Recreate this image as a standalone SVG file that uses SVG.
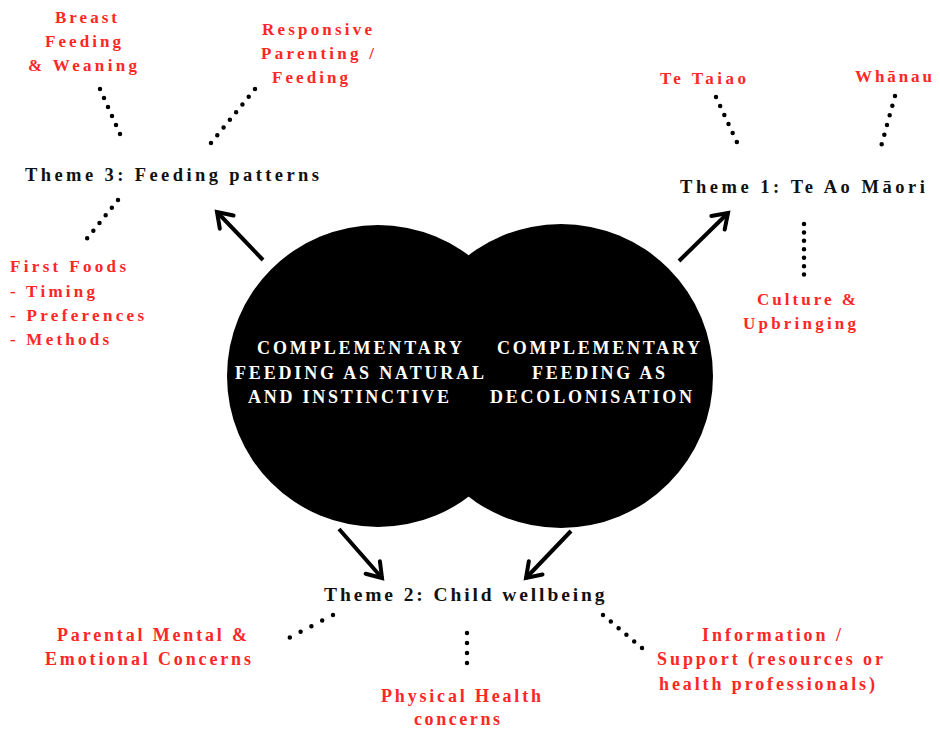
<svg xmlns="http://www.w3.org/2000/svg" width="940" height="729" viewBox="0 0 940 729">
<style>
.t{font-family:"Liberation Serif","Times New Roman",serif;font-weight:bold;font-size:18.5px;fill:#111;letter-spacing:3px}
.t2{font-family:"Liberation Serif","Times New Roman",serif;font-weight:bold;font-size:19.5px;fill:#111;letter-spacing:2.5px}
.r{font-family:"Liberation Serif","Times New Roman",serif;font-weight:bold;font-size:17px;fill:#ff2626;letter-spacing:3px}
.rb{font-family:"Liberation Serif","Times New Roman",serif;font-weight:bold;font-size:18px;fill:#ff2626;letter-spacing:2px}
.w{font-family:"Liberation Serif","Times New Roman",serif;font-weight:bold;font-size:18px;fill:#fff;letter-spacing:3px}
.dot{fill:none;stroke:#000;stroke-width:4.5;stroke-linecap:round;stroke-dasharray:0 1}
.arr{fill:none;stroke:#000;stroke-width:4;marker-end:url(#ah)}
</style>
<defs>
<marker id="ah" markerUnits="userSpaceOnUse" markerWidth="26" markerHeight="26" viewBox="0 0 26 26" refX="21" refY="13" orient="auto">
<path d="M7,3.5 L21,13 L7,22.5" fill="none" stroke="#000" stroke-width="4" stroke-linecap="round" stroke-linejoin="miter"/>
</marker>
</defs>
<rect width="940" height="729" fill="#fff"/>

<g id="center">
<circle cx="378" cy="376" r="151" fill="#000"/>
<circle cx="561" cy="376" r="152" fill="#000"/>
<text class="w" x="257" y="354" textLength="208" lengthAdjust="spacing">COMPLEMENTARY</text>
<text class="w" x="235" y="379" textLength="252" lengthAdjust="spacing">FEEDING AS NATURAL</text>
<text class="w" x="248" y="403" textLength="204" lengthAdjust="spacing">AND INSTINCTIVE</text>
<text class="w" x="497" y="354" textLength="206" lengthAdjust="spacing">COMPLEMENTARY</text>
<text class="w" x="532" y="379" textLength="136" lengthAdjust="spacing">FEEDING AS</text>
<text class="w" x="490" y="403" textLength="205" lengthAdjust="spacing">DECOLONISATION</text>
</g>

<g id="connectors">
<path class="arr" d="M263,260 L217,212"/>
<path class="arr" d="M679,261 L728,213"/>
<path class="arr" d="M339,529 L382,578"/>
<path class="arr" d="M571,531 L526,578"/>
<path class="dot" pathLength="6" d="M100,89 L124,143"/>
<path class="dot" pathLength="7" d="M255,89 L211,143"/>
<path class="dot" pathLength="6" d="M118,200 L81,246"/>
<path class="dot" pathLength="6" d="M716,97 L741,151"/>
<path class="dot" pathLength="6" d="M895,96 L879,154"/>
<path class="dot" pathLength="7" d="M804,224 L804,283"/>
<path class="dot" pathLength="5" d="M333,615 L279,643"/>
<path class="dot" pathLength="4" d="M467,633 L467,673"/>
<path class="dot" pathLength="5" d="M603,615 L642,648"/>
</g>

<g id="theme3">
<text class="t" x="25" y="181" textLength="297" lengthAdjust="spacing">Theme 3: Feeding patterns</text>
</g>
<g id="breastfeeding">
<text class="r" x="55" y="23" textLength="65" lengthAdjust="spacing">Breast</text>
<text class="r" x="45" y="47" textLength="79" lengthAdjust="spacing">Feeding</text>
<text class="r" x="28" y="71" textLength="112" lengthAdjust="spacing">&amp; Weaning</text>
</g>
<g id="responsive">
<text class="r" x="262" y="35" textLength="113" lengthAdjust="spacing">Responsive</text>
<text class="r" x="261" y="59" textLength="116" lengthAdjust="spacing">Parenting /</text>
<text class="r" x="272" y="83" textLength="79" lengthAdjust="spacing">Feeding</text>
</g>
<g id="firstfoods">
<text class="r" x="10" y="272" textLength="119" lengthAdjust="spacing">First Foods</text>
<text class="r" x="10" y="297" textLength="88" lengthAdjust="spacing">- Timing</text>
<text class="r" x="10" y="321" textLength="137" lengthAdjust="spacing">- Preferences</text>
<text class="r" x="10" y="345" textLength="102" lengthAdjust="spacing">- Methods</text>
</g>

<g id="theme1">
<text class="t" x="680" y="193" textLength="248" lengthAdjust="spacing">Theme 1: Te Ao Māori</text>
</g>
<g id="tetaiao">
<text class="r" x="660" y="84" textLength="89" lengthAdjust="spacing">Te Taiao</text>
</g>
<g id="whanau">
<text class="r" x="855" y="82" textLength="80" lengthAdjust="spacing">Whānau</text>
</g>
<g id="culture">
<text class="r" x="757" y="305" textLength="102" lengthAdjust="spacing">Culture &amp;</text>
<text class="r" x="743" y="329" textLength="116" lengthAdjust="spacing">Upbringing</text>
</g>

<g id="theme2">
<text class="t2" x="324" y="601" textLength="283" lengthAdjust="spacing">Theme 2: Child wellbeing</text>
</g>
<g id="parental">
<text class="rb" x="57" y="641" textLength="192" lengthAdjust="spacing">Parental Mental &amp;</text>
<text class="rb" x="45" y="665" textLength="208" lengthAdjust="spacing">Emotional Concerns</text>
</g>
<g id="physical">
<text class="rb" x="381" y="702" textLength="162" lengthAdjust="spacing">Physical Health</text>
<text class="rb" x="414" y="725" textLength="88" lengthAdjust="spacing">concerns</text>
</g>
<g id="information">
<text class="rb" x="702" y="641" textLength="141" lengthAdjust="spacing">Information /</text>
<text class="rb" x="657" y="665" textLength="228" lengthAdjust="spacing">Support (resources or</text>
<text class="rb" x="659" y="690" textLength="218" lengthAdjust="spacing">health professionals)</text>
</g>
</svg>
